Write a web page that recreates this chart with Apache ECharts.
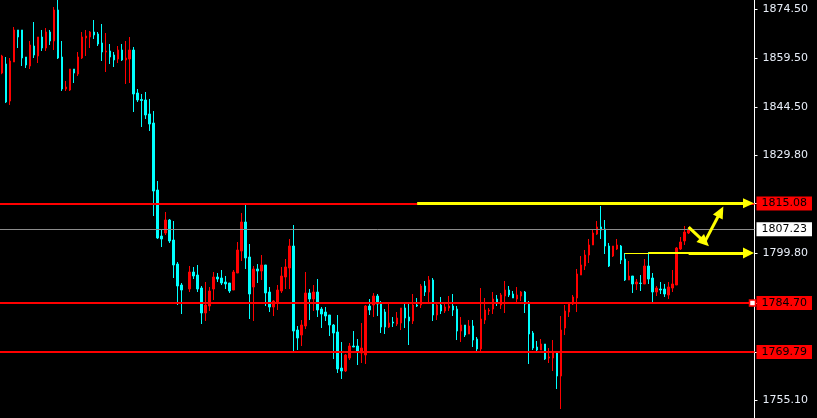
<!DOCTYPE html>
<html>
<head>
<meta charset="utf-8">
<script src="https://cdn.jsdelivr.net/npm/echarts@6/dist/echarts.min.js"></script>
<style>
html,body{margin:0;padding:0;background:#000;}
#chart{width:817px;height:418px;}
</style>
</head>
<body>
<div id="chart"></div>
<script>
// ---- data ----
const categories = Array.from({length: 189}, (_, i) => String(i));

const opens = [
1854.95,1857.71,1846.40,1858.32,1868.09,1868.09,1859.84,1857.10,1863.20,1860.15,
1865.95,1862.59,1867.48,1864.73,1874.20,1859.84,1850.07,1849.77,1856.18,1854.65,
1859.54,1865.65,1865.95,1867.48,1866.87,1864.12,1861.37,1861.68,1860.45,1859.23,
1861.98,1858.93,1859.23,1861.98,1848.85,1846.87,1846.71,1842.44,1839.69,1819.23,
1805.18,1806.10,1810.07,1803.96,1796.63,1790.22,null,1789.00,1794.19,1793.27,
1789.30,1781.67,1783.81,1789.00,1792.66,1792.36,1791.14,1790.83,1788.69,1793.88,
1800.60,1809.46,1798.77,1789.61,1795.11,1794.49,1796.33,1788.08,1783.50,1785.03,
1788.39,1792.66,1795.41,1802.13,1776.48,1774.95,1777.70,1787.78,1785.94,1788.08,
1782.89,1781.97,1781.06,1778.00,1775.87,1764.87,1763.96,1767.93,1771.59,1771.59,
1769.46,1768.85,1783.81,1784.11,1786.86,1784.42,1781.97,1777.39,1778.92,1778.31,
1778.61,1783.20,1780.45,1779.23,1784.11,1784.11,1789.92,1788.08,1791.75,1781.06,
1784.11,1782.28,1783.20,1783.81,1782.89,1776.17,1778.00,1775.26,1777.70,1773.73,
1770.68,1779.53,1782.28,1782.89,1785.94,1784.11,1786.86,1788.69,1787.47,1785.94,
1786.86,1788.08,1784.72,1775.56,1771.29,1770.37,1772.20,1767.93,1767.93,1769.46,
1762.43,1777.09,1781.97,1784.42,1786.25,1793.27,1796.02,1799.38,1802.44,1805.79,
1807.93,1807.32,1802.13,1799.08,1801.21,1802.13,1798.16,1791.75,1792.97,1790.53,
1790.83,1790.53,1796.02,1792.36,1788.08,1789.00,1789.00,1787.17,1789.30,1790.22,
1801.21,1803.66,1806.10
];

const closes = [
1860.15,1846.10,1858.62,1868.09,1865.95,1859.54,1857.40,1863.51,1860.45,1865.95,
1862.59,1867.48,1864.73,1874.20,1859.54,1850.07,1850.68,1856.18,1854.95,1859.84,
1865.95,1866.26,1867.48,1866.56,1863.81,1861.37,1861.68,1859.84,1858.93,1861.98,
1858.93,1859.54,1861.98,1848.55,1846.71,1846.56,1842.13,1839.38,1818.92,1804.57,
1804.27,1810.07,1803.66,1796.33,1789.92,1788.69,null,1794.19,1792.97,1789.00,
1781.67,1784.11,1788.39,1792.66,1792.05,1790.83,1790.53,1788.39,1794.19,1800.91,
1809.46,1798.47,1787.47,1795.11,1794.49,1796.33,1787.78,1783.50,1785.33,1788.69,
1792.97,1795.72,1802.13,1776.17,1774.03,1778.00,1787.78,1785.94,1788.08,1782.59,
1781.36,1780.75,1778.00,1775.56,1764.57,1763.96,1768.85,1771.59,1771.29,1770.07,
1770.98,1783.81,1782.59,1786.86,1784.42,1777.39,1777.39,1778.61,1778.61,1780.14,
1783.20,1780.14,1779.23,1784.11,1783.81,1789.92,1788.08,1791.75,1781.06,1784.11,
1782.28,1783.50,1783.81,1782.59,1776.17,1778.00,1774.95,1777.70,1773.42,1770.68,
1779.84,1782.59,1782.59,1785.94,1784.72,1787.17,1788.69,1787.17,1786.25,1787.17,
1788.08,1784.42,1775.26,1770.98,1770.37,1772.20,1767.62,1768.23,1769.46,1762.43,
1776.48,1782.28,1784.42,1786.56,1793.58,1796.33,1799.38,1802.44,1806.10,1807.93,
1807.01,1802.13,1796.02,1802.13,1802.44,1797.85,1791.75,1792.97,1790.53,1791.14,
1790.68,1796.02,1792.05,1788.08,1789.30,1788.69,1787.47,1789.61,1790.53,1801.52,
1803.35,1806.40,1807.23
];

const lows = [
1854.60,1845.79,1845.18,1858.32,1862.59,1857.10,1856.49,1856.18,1859.54,1858.01,
1861.68,1861.68,1863.51,1861.98,1859.23,1849.46,1849.46,1849.46,1851.90,1854.04,
1859.23,1860.15,1862.59,1865.34,1863.20,1858.62,1855.26,1857.71,1856.79,1858.01,
1858.62,1851.60,1851.90,1843.05,1846.10,1838.47,1840.91,1837.25,1811.29,1804.27,
1801.82,1805.49,1803.05,1792.36,1784.11,1781.36,null,1788.08,1792.05,1788.08,
1778.31,1779.23,1782.28,1785.64,1791.14,1790.22,1789.00,1787.78,1788.69,1793.88,
1797.55,1795.11,1779.84,1779.23,1790.83,1791.75,1783.81,1781.97,1780.75,1782.59,
1787.78,1789.00,1789.00,1770.07,1770.37,1771.59,1776.78,1779.53,1782.28,1780.45,
1777.09,1779.23,1774.65,1767.62,1763.35,1761.52,1763.65,1767.32,1771.29,1765.79,
1766.40,1766.10,1781.06,1780.45,1780.75,1775.56,1775.26,1777.09,1777.39,1777.70,
1776.48,1777.09,1771.90,1778.31,1783.50,1783.20,1786.86,1785.03,1779.23,1779.53,
1781.36,1781.67,1782.28,1780.75,1773.42,1772.81,1774.34,1775.26,1771.29,1770.07,
1769.76,1778.31,1781.06,1781.36,1783.81,1782.89,1781.67,1786.56,1786.25,1785.03,
1785.33,1781.67,1766.10,1770.37,1769.76,1770.37,1767.32,1766.40,1763.96,1758.46,
1752.35,1774.95,1780.45,1784.11,1781.97,1793.27,1794.80,1796.94,1802.44,1805.49,
1804.27,1799.69,1795.72,1798.77,1800.91,1796.63,1791.44,1791.75,1787.78,1788.69,
1788.39,1790.53,1790.53,1785.03,1786.86,1787.47,1786.56,1785.94,1788.08,1790.22,
1800.91,1802.44,1805.79
];

const highs = [
1860.50,1859.84,1859.54,1869.01,1868.09,1868.09,1859.84,1864.73,1870.53,1865.95,
1868.09,1868.70,1868.09,1875.11,1878.00,1864.73,1852.52,1856.18,1856.18,1861.37,
1867.48,1868.09,1867.78,1871.14,1867.48,1869.92,1867.17,1863.81,1861.37,1863.20,
1863.81,1864.73,1865.95,1862.90,1850.07,1848.55,1849.16,1847.02,1843.35,1821.98,
1807.32,1812.51,1810.37,1809.76,1797.24,1790.83,null,1796.02,1795.72,1796.33,
1789.92,1791.14,1789.61,1794.19,1793.88,1794.80,1792.97,1790.83,1794.80,1803.35,
1812.20,1814.95,1802.74,1796.02,1796.63,1799.38,1796.33,1789.61,1785.64,1790.22,
1795.72,1798.16,1804.27,1808.54,1777.70,1779.53,1794.19,1789.00,1790.22,1792.05,
1783.50,1783.50,1781.06,1778.31,1781.06,1772.81,1769.15,1772.51,1776.17,1773.73,
1778.61,1784.11,1785.94,1787.78,1787.47,1785.33,1782.89,1784.72,1780.45,1781.97,
1783.20,1784.42,1784.72,1787.47,1786.25,1790.53,1791.44,1792.97,1792.36,1785.03,
1786.56,1785.03,1786.86,1787.47,1783.81,1780.45,1778.00,1779.53,1779.53,1774.34,
1789.30,1786.25,1783.20,1788.08,1787.17,1787.78,1791.44,1789.92,1788.39,1789.61,
1788.39,1788.39,1785.33,1776.17,1773.12,1773.73,1772.20,1770.98,1773.42,1769.46,
1780.75,1784.11,1784.72,1787.17,1795.11,1799.08,1800.91,1804.27,1807.01,1809.76,
1814.34,1810.07,1803.05,1802.13,1804.27,1802.44,1799.99,1797.55,1792.97,1792.05,
1793.27,1798.16,1800.30,1793.88,1789.92,1791.14,1790.53,1791.14,1794.80,1801.82,
1804.88,1808.24,1807.93
];

// axis tick labels on the right price scale
const axisTickValues = [1874.50, 1859.50, 1844.50, 1829.80, 1799.80, 1755.10];

// horizontal levels
const redLevels = [1815.08, 1784.70, 1769.79];
const currentPrice = 1807.23;

// yellow annotation arrows: [fromCategory, fromPrice, toCategory, toPrice]
const arrowUpper = ['104', 1815.2, '187', 1815.2];
const arrowLower = ['156', 1800.0, '187', 1800.0];
const zigDown = ['172', 1807.9, '176', 1803.3];
const zigUp = ['176', 1803.3, '180', 1812.6];

// ---- chart ----
const FONT = 'DejaVu Sans';
const candleData = opens.map((o, i) => o == null ? '-' : [o, closes[i], lows[i], highs[i]]);

function levelLine(v, lineColor, width, boxColor, textColor) {
  return {
    yAxis: v,
    lineStyle: {color: lineColor, width: width, type: 'solid'},
    label: {
      show: true, position: 'end', distance: 2,
      formatter: v.toFixed(2),
      backgroundColor: boxColor, color: textColor,
      fontFamily: FONT, fontSize: 11, lineHeight: 12,
      padding: [1, 5, 1, 5]
    }
  };
}

function arrow(a, width, withHead, headSize) {
  const ls = {color: '#ffff00', width: width, type: 'solid', opacity: 1};
  return [
    {coord: [a[0], a[1]], symbol: 'none', lineStyle: ls, label: {show: false}},
    {coord: [a[2], a[3]], symbol: withHead ? 'triangle' : 'none', symbolSize: headSize || [10, 11], lineStyle: ls, label: {show: false}}
  ];
}

const chart = echarts.init(document.getElementById('chart'), null, {renderer: 'canvas'});
chart.setOption({
  backgroundColor: '#000000',
  animation: false,
  textStyle: {fontFamily: FONT},
  grid: {left: -1.5, right: 62.5, top: 0, bottom: 0, containLabel: false},
  xAxis: {
    type: 'category', data: categories, boundaryGap: true,
    axisLine: {show: false}, axisTick: {show: false}, axisLabel: {show: false}, splitLine: {show: false}
  },
  yAxis: {
    type: 'value', position: 'right', scale: true,
    min: 1749.61, max: 1877.25,
    axisLine: {show: true, lineStyle: {color: '#ffffff', width: 1}},
    axisTick: {show: true, length: 3, customValues: axisTickValues.concat(redLevels), lineStyle: {color: '#ffffff'}},
    axisLabel: {
      show: true, customValues: axisTickValues, margin: 8,
      color: '#e8eef8', fontFamily: FONT, fontSize: 11,
      formatter: v => Number(v).toFixed(2)
    },
    splitLine: {show: false}
  },
  series: [{
    type: 'candlestick',
    data: candleData,
    barWidth: 2,
    itemStyle: {
      color: '#ff0000', color0: '#00ffff',
      borderColor: '#ff0000', borderColor0: '#00ffff', borderWidth: 1
    },
    emphasis: {disabled: true},
    markPoint: {
      silent: true, animation: false,
      data: [{
        coord: ['188', redLevels[1]], symbol: 'rect', symbolSize: 6,
        itemStyle: {color: '#ffffff', borderColor: '#ff0000', borderWidth: 1.5},
        label: {show: false}
      }]
    },
    markLine: {
      silent: true, animation: false, symbol: 'none',
      emphasis: {disabled: true},
      data: [
        levelLine(currentPrice, '#8c8c8c', 1, '#ffffff', '#000000'),
        levelLine(redLevels[0], '#ff0000', 2, '#ff0000', '#000000'),
        levelLine(redLevels[1], '#ff0000', 2, '#ff0000', '#000000'),
        levelLine(redLevels[2], '#ff0000', 2, '#ff0000', '#000000'),
        arrow(arrowUpper, 3, true, [10, 11]),
        arrow(arrowLower, 1, false),
        arrow(['162', 1800.0, '187', 1800.0], 2, false),
        arrow(['172', 1800.0, '187', 1800.0], 3, true, [11, 11]),
        arrow(zigDown, 3, true, [11, 12]),
        arrow(zigUp, 3, true, [11, 12])
      ]
    }
  }]
});
</script>
</body>
</html>
